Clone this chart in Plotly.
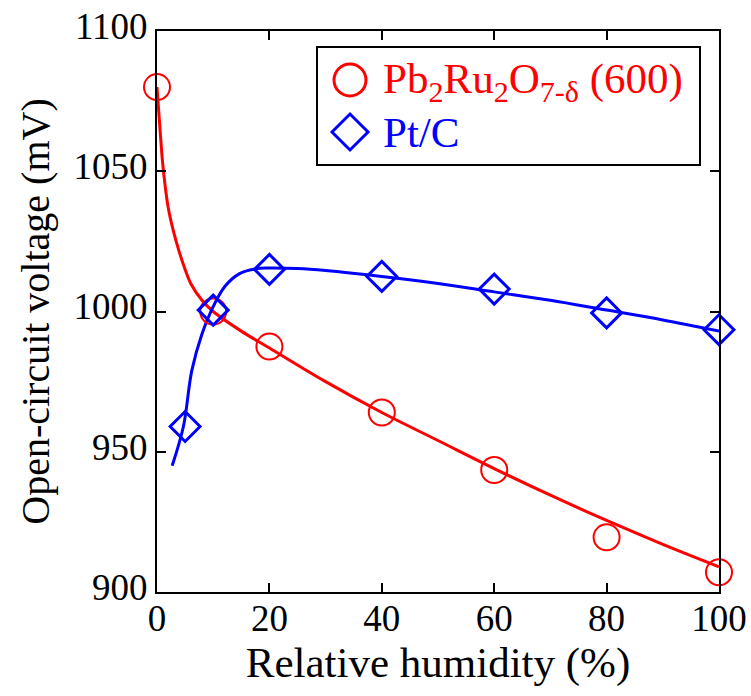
import plotly.graph_objects as go

# measured data
rh_pb = [0, 10, 20, 40, 60, 80, 100]
ocv_pb = [1080, 1000, 987.5, 964, 943.5, 919.5, 907]
rh_pt = [5, 10, 20, 40, 60, 80, 100]
ocv_pt = [959, 1000.5, 1015, 1012.5, 1008, 999.5, 993.5]

# fitted curves
fit_pb_x = [0, 0.5, 1, 1.5, 2, 3, 4, 5, 6, 8, 10, 15, 20, 30, 40, 50, 60, 70, 80, 90, 100]
fit_pb_y = [1080, 1066, 1053, 1044, 1037, 1028, 1021, 1015, 1010, 1004, 1000, 993, 987, 975, 964, 954, 944, 934.5, 925.5, 917, 909]
fit_pt_x = [2.7, 4.7, 6.2, 8, 9.7, 12.1, 14.7, 17.7, 20, 25, 30, 40, 50, 60, 70, 80, 90, 100]
fit_pt_y = [945, 959, 979, 992, 1000.5, 1009, 1013.5, 1015.3, 1015.5, 1015.3, 1014.6, 1012.5, 1010, 1007, 1004, 1000.5, 997, 993]

legend_labels = ["Pb<sub>2</sub>Ru<sub>2</sub>O<sub>7-δ</sub> (600)", "Pt/C"]

RED = "#ff0000"
BLUE = "#0000ff"
FONT = '"Times New Roman", "Liberation Serif", "DejaVu Serif", serif'

W, H = 751, 696
ML, MR, MT, MB = 157, 32, 31, 104
PW, PH = W - ML - MR, H - MT - MB


def px(x):
    return (x - ML) / PW


def py(y):
    return (H - MB - y) / PH


fig = go.Figure()
fig.add_trace(go.Scatter(x=fit_pb_x, y=fit_pb_y, mode="lines", line=dict(color=RED, width=3, shape="spline"),
                         showlegend=False, hoverinfo="skip"))
fig.add_trace(go.Scatter(x=fit_pt_x, y=fit_pt_y, mode="lines", line=dict(color=BLUE, width=3, shape="spline"),
                         showlegend=False, hoverinfo="skip"))
fig.add_trace(go.Scatter(x=rh_pb, y=ocv_pb, mode="markers", cliponaxis=False, showlegend=False,
                         marker=dict(symbol="circle-open", size=26, color=RED, line=dict(width=2, color=RED))))
fig.add_trace(go.Scatter(x=rh_pt, y=ocv_pt, mode="markers", cliponaxis=False, showlegend=False,
                         marker=dict(symbol="diamond-open", size=23, color=BLUE, line=dict(width=3, color=BLUE))))

axis_common = dict(showline=True, linecolor="black", linewidth=2, mirror="allticks",
                   ticks="inside", ticklen=9, tickwidth=2, tickcolor="black",
                   showgrid=False, zeroline=False, automargin=False,
                   tickfont=dict(family=FONT, size=37, color="black"))

# custom legend (box, symbols, labels)
shapes = [
    dict(type="rect", xref="paper", yref="paper", x0=px(317), x1=px(700), y0=py(165), y1=py(47),
         line=dict(color="black", width=2), fillcolor="white", layer="above"),
    dict(type="circle", xref="paper", yref="paper", x0=px(334), x1=px(366), y0=py(96), y1=py(64),
         line=dict(color=RED, width=3), layer="above"),
    dict(type="path", xref="paper", yref="paper",
         path=f"M {px(332)},{py(132)} L {px(350)},{py(114)} L {px(368)},{py(132)} L {px(350)},{py(150)} Z",
         line=dict(color=BLUE, width=3), layer="above"),
]
annotations = [
    dict(xref="paper", yref="paper", x=px(381), y=py(82), xanchor="left", yanchor="middle",
         text=legend_labels[0], showarrow=False, font=dict(family=FONT, size=43, color=RED)),
    dict(xref="paper", yref="paper", x=px(381), y=py(133), xanchor="left", yanchor="middle",
         text=legend_labels[1], showarrow=False, font=dict(family=FONT, size=43, color=BLUE)),
]

fig.update_layout(
    width=W, height=H,
    margin=dict(l=ML, r=MR, t=MT, b=MB),
    paper_bgcolor="white", plot_bgcolor="white",
    font=dict(family=FONT, color="black"),
    showlegend=False,
    xaxis=dict(range=[0, 100], tickvals=[0, 20, 40, 60, 80, 100], ticklabelstandoff=-7,
               title=dict(text="Relative humidity (%)", font=dict(family=FONT, size=43), standoff=6),
               **axis_common),
    yaxis=dict(range=[900, 1100], tickvals=[900, 950, 1000, 1050, 1100], ticklabelshift=-5,
               title=dict(text="Open-circuit voltage (mV)", font=dict(family=FONT, size=40), standoff=12),
               **axis_common),
    shapes=shapes,
    annotations=annotations,
)

fig.write_html("out.html")
